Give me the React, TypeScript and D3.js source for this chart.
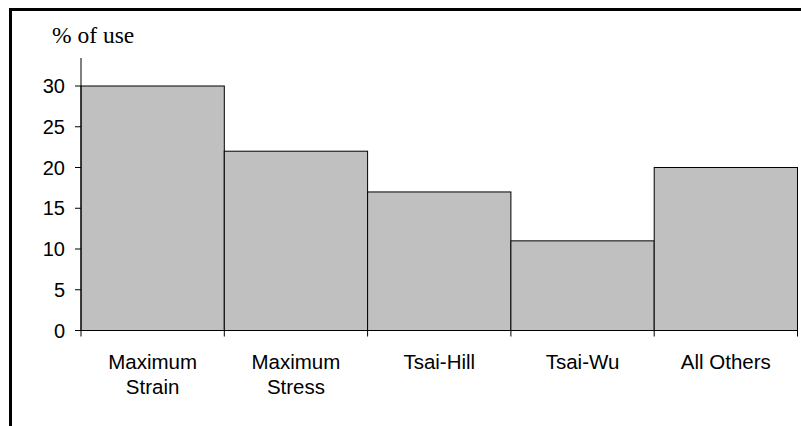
import React from "react";
import * as d3 from "d3";

const categories = ["Maximum Strain", "Maximum Stress", "Tsai-Hill", "Tsai-Wu", "All Others"];
const usage = [30, 22, 17, 11, 20];
const yTicks = [0, 5, 10, 15, 20, 25, 30];
const yTitle = "% of use";

const W = 801;
const H = 426;

export default function App() {
  const x = d3.scaleBand<string>().domain(categories).range([81, 797.5]).padding(0);
  const y = d3.scaleLinear().domain([0, 30]).range([330.5, 86]);
  const sans = "Liberation Sans, Arial, sans-serif";
  return (
    <svg
      width={W}
      height={H}
      style={{ position: "absolute", left: 0, top: 0, background: "#fff" }}
    >
      <rect x={0} y={0} width={W} height={H} fill="#fff" />
      <rect x={10.5} y={9.5} width={1000} height={1000} fill="none" stroke="#000" strokeWidth={3} />
      <text x={52} y={43} fontFamily="Liberation Serif, Times New Roman, serif" fontSize={23.5} fill="#000">
        {yTitle}
      </text>
      {categories.map((c, i) => (
        <rect
          key={c}
          x={x(c)!}
          y={y(usage[i])}
          width={x.bandwidth()}
          height={y(0) - y(usage[i])}
          fill="#c0c0c0"
          stroke="#000"
          strokeWidth={1}
        />
      ))}
      <line x1={81} x2={81} y1={58} y2={y(0)} stroke="#000" strokeWidth={1} />
      <line x1={81} x2={797.5} y1={y(0)} y2={y(0)} stroke="#000" strokeWidth={1} />
      {yTicks.map((t) => (
        <g key={t}>
          <line x1={75} x2={81} y1={y(t)} y2={y(t)} stroke="#000" strokeWidth={1} />
          <text x={65} y={y(t)} dy="0.35em" textAnchor="end" fontFamily={sans} fontSize={20} fill="#000">
            {t}
          </text>
        </g>
      ))}
      {[...categories.map((c) => x(c)!), x(categories[categories.length - 1])! + x.bandwidth()].map((bx, i) => (
        <line key={i} x1={bx} x2={bx} y1={y(0)} y2={y(0) + 6} stroke="#000" strokeWidth={1} />
      ))}
      {categories.map((c) => {
        const words = c === "All Others" ? [c] : c.split(" ");
        const cx = x(c)! + x.bandwidth() / 2;
        return (
          <text key={c} textAnchor="middle" fontFamily={sans} fontSize={20.5} fill="#000">
            {words.map((w, j) => (
              <tspan key={j} x={cx} y={369 + j * 25}>
                {w}
              </tspan>
            ))}
          </text>
        );
      })}
    </svg>
  );
}
